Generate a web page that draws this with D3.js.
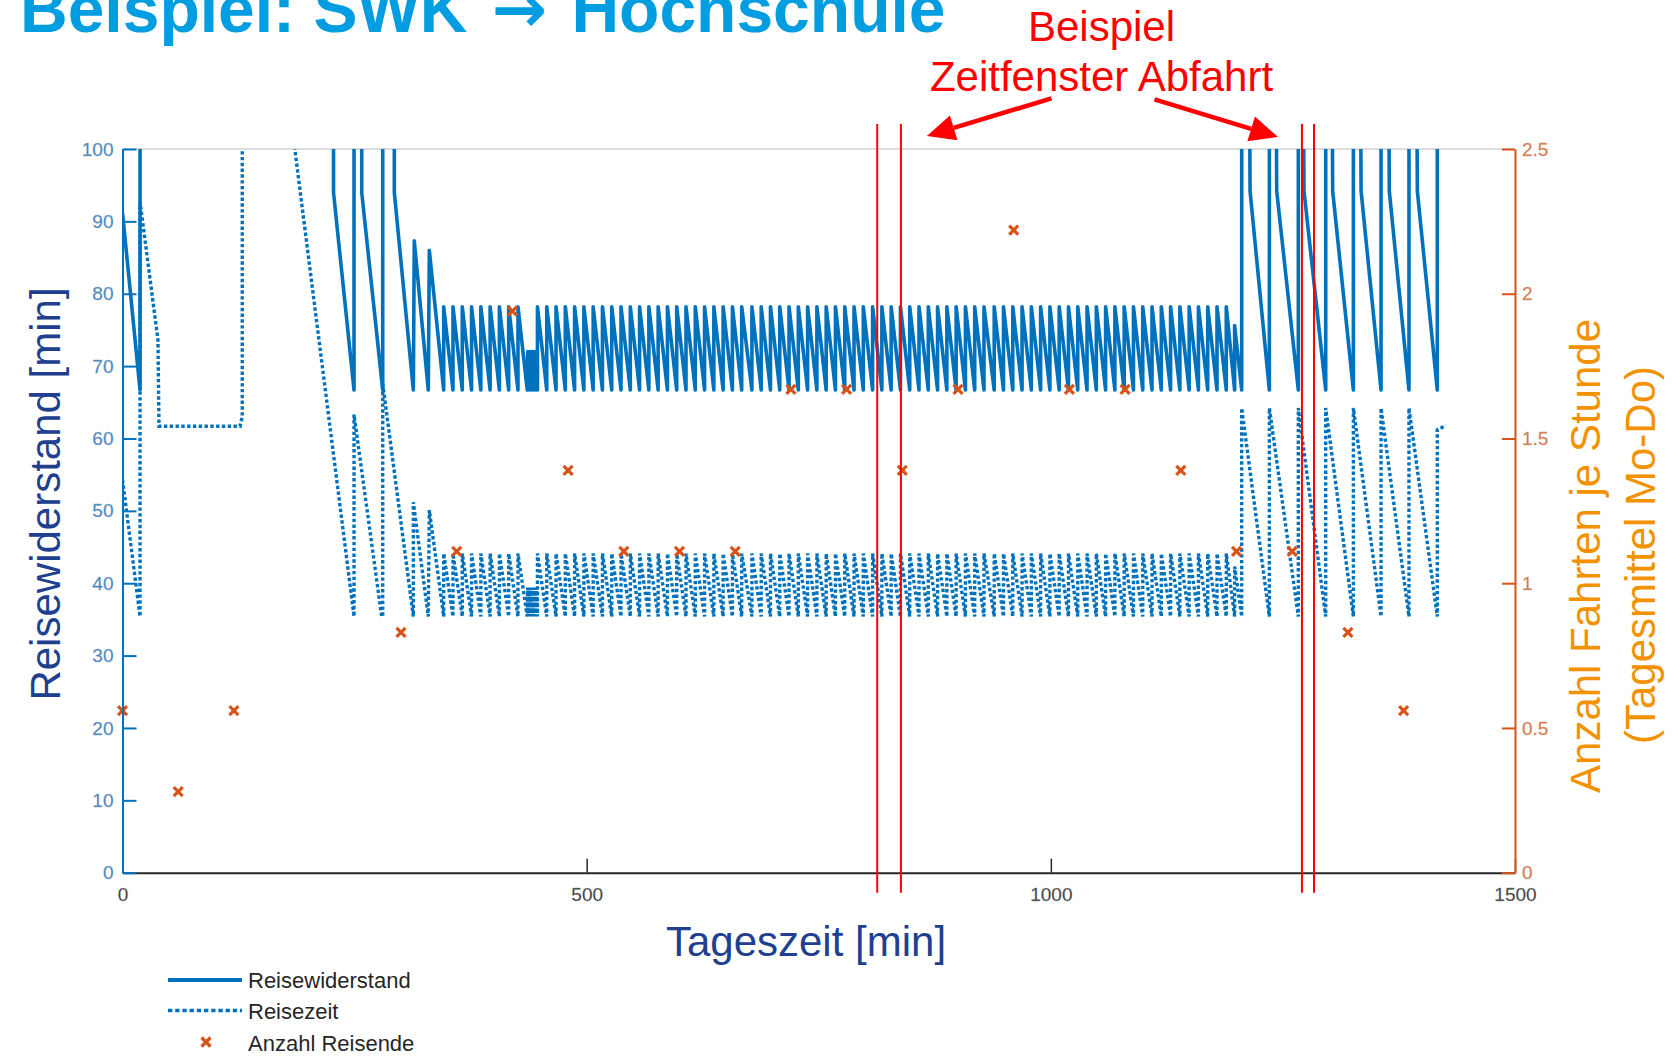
<!DOCTYPE html>
<html>
<head>
<meta charset="utf-8">
<script src="https://cdn.jsdelivr.net/npm/d3@7"></script>
<style>
body { margin: 0; background: #fff; }
svg { display: block; font-family: "Liberation Sans", Arial, sans-serif; }
</style>
</head>
<body>
<div id="chart"></div>
<script>
//data//
// Werte ueber 100 liegen ausserhalb des Diagramms (110 = "sehr hoch")
let widerstandMorgen = [
    [0, 91.2], [18.9, 66.7], [18.9, 110],
    [227.3, 110], [227.3, 94], [249.4, 66.7], [249.4, 110],
    [257.7, 110], [257.7, 94], [280.3, 66.7], [280.3, 110],
    [292.8, 110], [292.8, 94], [313.3, 66.7], [314.3, 87.3],
    [329.4, 66.7], [330.5, 86]
];
let reisezeitMorgen = [
    [0, 54.3], [18.9, 35.4], [18.9, 92.7], [38.2, 73.6], [39.3, 61.7],
    [126.6, 61.7], [129, 63], [129, 110],
    [175.6, 110], [185.6, 100], [249.4, 35.4], [249.4, 63.3],
    [279.2, 35.4], [280.3, 35.4], [280.3, 67.6], [313.3, 35.4],
    [313.3, 51.2], [329.4, 35.4], [330.5, 50.1]
];

// Abfahrten im 10-Minuten-Takt [min]
let takt1 = [346, 356, 366, 376, 386, 396, 406, 416, 426];
let takt2 = [447, 457, 467, 477, 487, 497, 507, 517, 527, 537, 547, 557, 567, 577, 587, 597, 607, 617, 627, 637, 647, 657, 667,
    678, 688, 698, 708, 718, 728, 738, 748, 758, 768, 778, 788, 798, 808, 818, 828, 838, 848, 858, 868, 878, 888, 898, 908, 918, 928,
    939, 949, 959, 969, 979, 989, 999, 1009, 1019, 1029, 1039, 1049, 1059, 1069, 1079, 1089, 1099, 1109, 1119, 1129, 1139, 1149, 1159, 1169, 1179, 1189];
let taktWiderstand = [66.7, 78.2]; // min, max
let taktReisezeit = [35.4, 44.1];

// dichte Abfahrten um 7:20
let widerstandDicht = [
    [436, 66.7], [436.5, 72], [437.5, 66.7], [438.5, 72], [439.5, 66.7], [440.5, 72],
    [441.5, 66.7], [442.5, 72], [443.5, 66.7], [444.5, 72], [445.5, 66.7], [446.2, 72]
];
let reisezeitDicht = [
    [436, 35.4], [436.5, 39.4], [437.5, 35.4], [438.5, 39.4], [439.5, 35.4], [440.5, 39.4],
    [441.5, 35.4], [442.5, 39.4], [443.5, 35.4], [444.5, 39.4], [445.5, 35.4], [446.2, 39.4]
];

let widerstandAbend = [
    [1198, 66.7], [1198, 75.6], [1205.6, 66.7], [1205.6, 110],
    [1214, 110], [1214.6, 94.2], [1235.4, 66.7], [1235.4, 110],
    [1242.7, 110], [1243.3, 94.2], [1266.6, 66.7], [1266.6, 110],
    [1272.1, 110], [1272.7, 94.2], [1296.1, 66.7], [1296.1, 110],
    [1303, 110], [1303.6, 94.2], [1325.9, 66.7], [1325.9, 110],
    [1333.6, 110], [1334.2, 94.2], [1355.7, 66.7], [1355.7, 110],
    [1364, 110], [1364.6, 94.2], [1385.8, 66.7], [1385.8, 110],
    [1394.2, 110], [1394.8, 94.2], [1416.3, 66.7], [1416.3, 110]
];
let reisezeitAbend = [
    [1198, 35.4], [1198, 42.3], [1205.6, 35.4], [1205.6, 64.2],
    [1235.4, 35.4], [1235.4, 64.2], [1266.6, 35.4], [1266.6, 64.2],
    [1296.1, 35.4], [1296.1, 64.2], [1325.9, 35.4], [1325.9, 64.2],
    [1355.7, 35.4], [1355.7, 64.2], [1385.8, 35.4], [1385.8, 64.2],
    [1416.3, 35.4], [1416.3, 61.2], [1425.6, 61.8]
];

// Anzahl Fahrten je Stunde (rechte Achse)
let stunden = [0, 60, 120, 300, 360, 420, 480, 540, 600, 660, 720, 780, 840, 900, 960, 1020, 1080, 1140, 1200, 1260, 1320, 1380];
let fahrten = [0.56, 0.28, 0.56, 0.83, 1.11, 1.94, 1.39, 1.11, 1.11, 1.11, 1.67, 1.67, 1.39, 1.67, 2.22, 1.67, 1.67, 1.39, 1.11, 1.11, 0.83, 0.56];

// Zeitfenster Abfahrt (rote Linien)
let zeitfenster = [813, 838.5, 1270.5, 1283.5];

let xTicks = [0, 500, 1000, 1500];
let yTicks = [0, 10, 20, 30, 40, 50, 60, 70, 80, 90, 100];
let y2Ticks = [0, 0.5, 1, 1.5, 2, 2.5];

//layout//
let w = 1675;
let h = 1057;
let pLeft = 122.5, pRight = 1515, pTop = 149, pBottom = 872.7;
let blue = '#0072bd';
let orange = '#d95319';

function saegezahn(abfahrten, werte) {
    let pts = [];
    abfahrten.forEach(d => {
        pts.push([d, werte[0]]);
        pts.push([d, werte[1]]);
    });
    return pts;
}

let widerstand = widerstandMorgen
    .concat(saegezahn(takt1, taktWiderstand))
    .concat(widerstandDicht)
    .concat(saegezahn(takt2, taktWiderstand))
    .concat(widerstandAbend);

let reisezeit = reisezeitMorgen
    .concat(saegezahn(takt1, taktReisezeit))
    .concat(reisezeitDicht)
    .concat(saegezahn(takt2, taktReisezeit))
    .concat(reisezeitAbend);

let xScale = d3.scaleLinear().domain([0, 1500]).range([pLeft, pRight]);
let yScale = d3.scaleLinear().domain([0, 100]).range([pBottom, pTop]);
let y2Scale = d3.scaleLinear().domain([0, 2.5]).range([pBottom, pTop]);

let svg = d3.select('#chart')
    .append('svg')
    .attr('width', w)
    .attr('height', h)
    .style('background-color', '#ffffff');

svg.append('clipPath')
    .attr('id', 'plot')
    .append('rect')
    .attr('x', pLeft)
    .attr('y', pTop)
    .attr('width', pRight - pLeft)
    .attr('height', pBottom - pTop);

// top border
svg.append('line')
    .attr('x1', pLeft).attr('x2', pRight)
    .attr('y1', pTop).attr('y2', pTop)
    .attr('stroke', '#d2d2d2')
    .attr('stroke-width', 1.5);

let line = d3.line()
    .x(d => xScale(d[0]))
    .y(d => yScale(d[1]));

let plot = svg.append('g').attr('clip-path', 'url(#plot)');

plot.append('path')
    .datum(widerstand)
    .attr('d', line)
    .attr('fill', 'none')
    .attr('stroke', blue)
    .attr('stroke-width', 3.6)
    .attr('stroke-linejoin', 'round');

plot.append('path')
    .datum(reisezeit)
    .attr('d', line)
    .attr('fill', 'none')
    .attr('stroke', blue)
    .attr('stroke-width', 3.4)
    .attr('stroke-dasharray', '3.4,2.4');

let kreuz = 'M-4.5,-4.5L4.5,4.5M-4.5,4.5L4.5,-4.5';

svg.append('g')
    .selectAll('path')
    .data(stunden)
    .enter()
    .append('path')
    .attr('d', kreuz)
    .attr('transform', (d, i) => 'translate(' + xScale(d) + ',' + y2Scale(fahrten[i]) + ')')
    .attr('stroke', orange)
    .attr('stroke-width', 3.2);

//axes//
let xAxis = d3.axisBottom(xScale).tickValues(xTicks).tickFormat(d3.format('d'))
    .tickSizeInner(-14).tickSizeOuter(0).tickPadding(15);
let yAxis = d3.axisLeft(yScale).tickValues(yTicks)
    .tickSizeInner(-14).tickSizeOuter(0).tickPadding(9);
let y2Axis = d3.axisRight(y2Scale).tickValues(y2Ticks).tickFormat(d => d)
    .tickSizeInner(-13).tickSizeOuter(0).tickPadding(7);

let gx = svg.append('g')
    .attr('transform', 'translate(0,' + pBottom + ')')
    .call(xAxis);
gx.select('.domain').attr('stroke', '#262626').attr('stroke-width', 2);
gx.selectAll('.tick line').attr('stroke', '#262626').attr('stroke-width', 1.5);
gx.selectAll('text').attr('fill', '#3a3a3a').style('font-size', '19px')
    .attr('stroke', '#9a9a9a').attr('stroke-width', 0.3);

let gy = svg.append('g')
    .attr('transform', 'translate(' + pLeft + ',0)')
    .call(yAxis);
gy.select('.domain').attr('stroke', blue).attr('stroke-width', 2);
gy.selectAll('.tick line').attr('stroke', blue).attr('stroke-width', 2);
gy.selectAll('text').attr('fill', '#3f86c6').style('font-size', '19px')
    .attr('stroke', '#8fa9c0').attr('stroke-width', 0.3);

let gy2 = svg.append('g')
    .attr('transform', 'translate(' + pRight + ',0)')
    .call(y2Axis);
gy2.select('.domain').attr('stroke', orange).attr('stroke-width', 2);
gy2.selectAll('.tick line').attr('stroke', orange).attr('stroke-width', 2);
gy2.selectAll('text').attr('fill', '#dd7545').style('font-size', '19px')
    .attr('stroke', '#c9a595').attr('stroke-width', 0.3);

//labels//
svg.append('text')
    .attr('transform', 'translate(60,494) rotate(-90)')
    .attr('text-anchor', 'middle')
    .style('font-size', '42px')
    .attr('fill', '#213f8f')
    .text('Reisewiderstand [min]');

svg.append('text')
    .attr('x', 806).attr('y', 956)
    .attr('text-anchor', 'middle')
    .style('font-size', '42px')
    .attr('fill', '#213f8f')
    .text('Tageszeit [min]');

svg.append('text')
    .attr('transform', 'translate(1600,556) rotate(-90)')
    .attr('text-anchor', 'middle')
    .style('font-size', '42px')
    .attr('fill', '#f39200')
    .text('Anzahl Fahrten je Stunde');

svg.append('text')
    .attr('transform', 'translate(1655,555) rotate(-90)')
    .attr('text-anchor', 'middle')
    .style('font-size', '42px')
    .attr('fill', '#f39200')
    .text('(Tagesmittel Mo-Do)');

// title (cut off at the top like the slide)
let title = svg.append('text')
    .attr('x', 20).attr('y', 32)
    .style('font-size', '66px')
    .style('font-weight', 'bold')
    .attr('fill', '#009ee0');
title.append('tspan').text('Beispiel: SWK ');
title.append('tspan').attr('dx', 6).style('font-family', '"DejaVu Sans"').text('\u2192');
title.append('tspan').attr('dx', 6).text(' Hochschule');

//annotation//
let red = '#ff0000';
let cx = 1101.5;

svg.append('text')
    .attr('x', cx).attr('y', 40.5)
    .attr('text-anchor', 'middle')
    .style('font-size', '42px')
    .attr('fill', red)
    .text('Beispiel');

svg.append('text')
    .attr('x', cx).attr('y', 90.7)
    .attr('text-anchor', 'middle')
    .style('font-size', '42px')
    .attr('fill', red)
    .text('Zeitfenster Abfahrt');

svg.append('g')
    .selectAll('line')
    .data(zeitfenster)
    .enter()
    .append('line')
    .attr('x1', d => xScale(d)).attr('x2', d => xScale(d))
    .attr('y1', pTop - 25).attr('y2', pBottom + 20)
    .attr('stroke', red)
    .attr('stroke-width', 2);

function arrow(x1, y1, x2, y2) {
    let a = Math.atan2(y2 - y1, x2 - x1);
    let len = 28, half = 13;
    let bx = x2 - len * Math.cos(a), by = y2 - len * Math.sin(a);
    svg.append('line')
        .attr('x1', x1).attr('y1', y1)
        .attr('x2', bx).attr('y2', by)
        .attr('stroke', red)
        .attr('stroke-width', 4.5);
    svg.append('path')
        .attr('d', 'M' + x2 + ',' + y2 +
            'L' + (bx + half * Math.sin(a)) + ',' + (by - half * Math.cos(a)) +
            'L' + (bx - half * Math.sin(a)) + ',' + (by + half * Math.cos(a)) + 'Z')
        .attr('fill', red);
}
arrow(cx - 50, 98.3, xScale(zeitfenster[1]) + 26, pTop - 13);
arrow(cx + 53, 99.3, xScale(zeitfenster[2]) - 24, pTop - 12);

//legend//
let legend = svg.append('g');
legend.append('line')
    .attr('x1', 168).attr('x2', 242).attr('y1', 980).attr('y2', 980)
    .attr('stroke', blue).attr('stroke-width', 4);
legend.append('line')
    .attr('x1', 168).attr('x2', 242).attr('y1', 1010.5).attr('y2', 1010.5)
    .attr('stroke', blue).attr('stroke-width', 3.4).attr('stroke-dasharray', '4.3,2.9');
legend.append('path')
    .attr('d', kreuz)
    .attr('transform', 'translate(206,1042)')
    .attr('stroke', orange).attr('stroke-width', 3.2);

legend.selectAll('text')
    .data(['Reisewiderstand', 'Reisezeit', 'Anzahl Reisende'])
    .enter()
    .append('text')
    .attr('x', 248)
    .attr('y', (d, i) => 987.5 + i * 31.5)
    .style('font-size', '22px')
    .attr('fill', '#262626')
    .text(d => d);
</script>
</body>
</html>
